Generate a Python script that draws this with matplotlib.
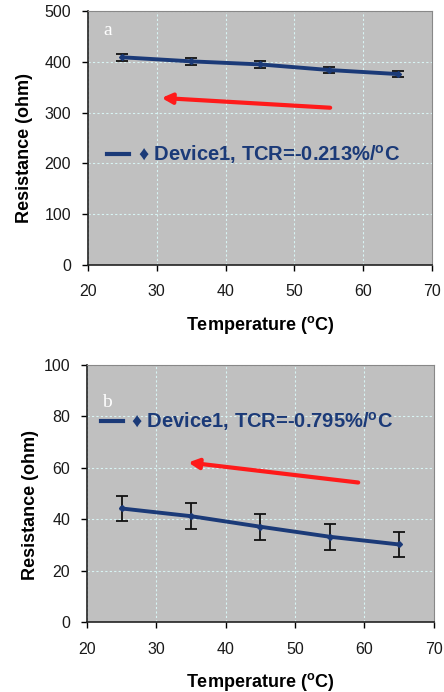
import numpy as np
import matplotlib
matplotlib.use("Agg")
import matplotlib.pyplot as plt
from matplotlib.lines import Line2D

plt.rcParams["font.family"] = ["Liberation Sans", "DejaVu Sans"]
plt.rcParams["mathtext.fontset"] = "custom"
plt.rcParams["mathtext.rm"] = "Liberation Sans"
plt.rcParams["mathtext.bf"] = "Liberation Sans:bold"

# ---- data -----------------------------------------------------------
temps = [25, 35, 45, 55, 65]
res_a = [409, 401, 395, 384, 376]
err_a = [6.5, 6.5, 6.5, 6.5, 6.5]
res_b = [44.2, 41.2, 37.1, 33.2, 30.2]
err_b = [5, 5, 5, 5, 5]
tcr_a = "-0.213"
tcr_b = "-0.795"

BG = "#c0c0c0"
NAVY = "#1b3a78"
GRID = "#d8f4f4"
DEG = r"$\mathbf{^{o}}$"


def style_axes(ax, ymax, ystep):
    ax.set_facecolor(BG)
    ax.set_xlim(20, 70)
    ax.set_ylim(0, ymax)
    ax.set_xticks(range(20, 71, 10))
    ax.set_yticks(np.arange(0, ymax + 1, ystep))
    ax.grid(True, color=GRID, ls=(0, (2, 2)), lw=0.8)
    ax.set_axisbelow(True)
    for s in ("top", "right"):
        ax.spines[s].set_color("#888888")
    for s in ("left", "bottom"):
        ax.spines[s].set_color("#222222")
        ax.spines[s].set_linewidth(1.2)
    ax.tick_params(direction="out", length=4, width=1, labelsize=11.5,
                   labelcolor="#1a1a1a")
    ax.tick_params(axis="x", pad=10)
    ax.tick_params(axis="y", pad=8)
    ax.set_xlabel("Temperature (" + DEG + "C)", fontsize=13, fontweight="bold")
    ax.set_ylabel("Resistance (ohm)", fontsize=13, fontweight="bold")


def draw_panel(ax, res, err, tcr, tag, tag_y, leg_xy, tail, head, ymax, ystep):
    style_axes(ax, ymax, ystep)
    ax.errorbar(temps, res, yerr=err, color=NAVY, lw=2.8, marker="D", ms=3,
                ecolor="#111111", elinewidth=1.3, capsize=4, capthick=1.3, zorder=3)
    ax.text(22.2, tag_y, tag, color="white", fontsize=14, family="Liberation Serif",
            va="center")
    handle = Line2D([], [], color=NAVY, lw=3)
    label = "\u2666 Device1, TCR=" + tcr + "%/" + DEG + "C"
    leg = ax.legend([handle], [label], frameon=False, loc="center left",
                    bbox_to_anchor=leg_xy, handlelength=1.1, handletextpad=0.4,
                    borderaxespad=0, prop={"size": 14.5, "weight": "bold"})
    for t in leg.get_texts():
        t.set_color(NAVY)
    ax.annotate("", xy=head, xytext=tail,
                arrowprops=dict(arrowstyle="-|>", color="#ff1a1a", lw=3,
                                mutation_scale=15, shrinkA=0, shrinkB=0))


fig = plt.figure(figsize=(4.44, 6.92), dpi=100)
ax_a = fig.add_axes([0.198, 0.617, 0.775, 0.367])
ax_b = fig.add_axes([0.196, 0.101, 0.781, 0.3715])

draw_panel(ax_a, res_a, err_a, tcr_a, "a", 462, (0.033, 0.435),
           (55.2, 309.7), (30.7, 329), 500, 100)
draw_panel(ax_b, res_b, err_b, tcr_b, "b", 85.5, (0.016, 0.78),
           (59.1, 54.3), (34.6, 62.1), 100, 20)

ax_a.yaxis.set_label_coords(-0.16, 0.46)
ax_a.xaxis.set_label_coords(0.5, -0.194)
ax_b.yaxis.set_label_coords(-0.138, 0.455)
ax_b.xaxis.set_label_coords(0.5, -0.19)

fig.savefig("out.png", dpi=100)
